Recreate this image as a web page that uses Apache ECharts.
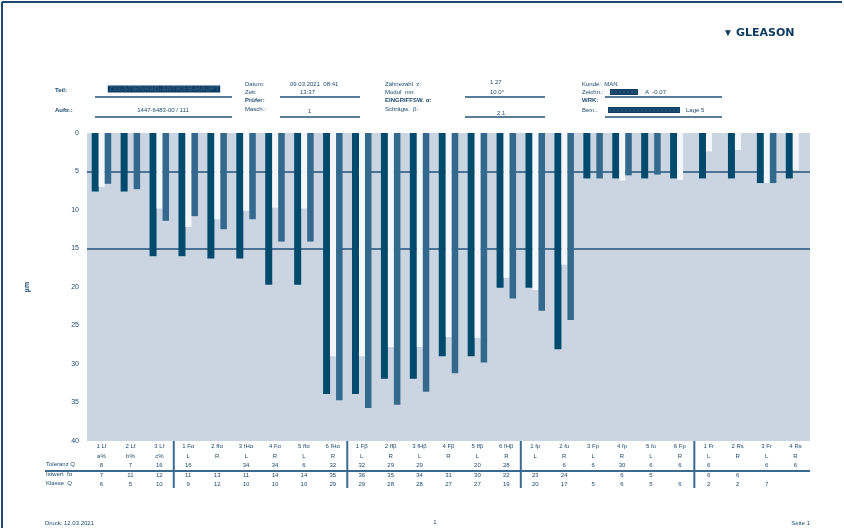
<!DOCTYPE html>
<html><head><meta charset="utf-8">
<script src="https://cdn.jsdelivr.net/npm/echarts@6/dist/echarts.min.js"></script>
<style>html,body{margin:0;padding:0;background:#fff}#c{width:844px;height:528px}</style>
</head><body><div id="c"></div>
<script>
// ---- data ----
const catLine1 = ['1 Lf','2 Lf','3 Lf','1 Fα','2 ffα','3 fHα','4 Fα','5 ffα','6 fHα','1 Fβ','2 ffβ','3 fHβ','4 Fβ','5 ffβ','6 fHβ','1 fp','2 fu','3 Fp','4 fp','5 fu','6 Fp','1 Fr','2 Rs','3 Fr','4 Rs'];
const catLine2 = ['a%','b%','c%','L','R','L','R','L','R','L','R','L','R','L','R','L','R','L','R','L','R','L','R','L','R'];
const darkValues  = [7.6,7.6,16.0,16.0,16.3,16.3,19.7,19.7,33.9,33.9,31.9,31.9,29.0,29.0,20.1,20.1,28.1,5.9,5.9,5.9,5.9,5.9,5.9,6.5,5.9];
const lightValues = [7.0,0,9.8,12.2,11.2,10.1,9.7,9.8,29.0,29.0,27.8,27.8,26.5,26.6,18.8,20.4,17.1,0,6.2,0,6.1,2.4,2.2,6.5,4.8];
const midValues   = [6.6,7.3,11.4,10.8,12.5,11.2,14.1,14.1,34.7,35.7,35.3,33.6,31.2,29.8,21.5,23.1,24.3,5.9,5.5,5.4,null,null,null,6.5,null];
const row1 = ['8','7','16','16','','34','34','6','32','32','29','29','','20','28','','6','6','30','6','6','6','','6','6'];
const row2 = ['7','11','12','11','13','11','14','14','35','36','35','34','31','30','22','23','24','','6','5','','6','6','',''];
const row3 = ['6','5','10','9','12','10','10','10','29','29','28','28','27','27','19','20','17','5','6','5','6','2','2','7',''];
const rowLabels = ['Toleranz Q', 'Istwert  fα', 'Klasse  Q'];
const yTicks = [0,5,10,15,20,25,30,35,40];
const refLines = [5,15];
const groupSizes = [3,6,6,6,4];

const C_DARK = '#004a6e', C_MID = '#34698e', C_LIGHT = '#f3f6fa', C_TXT = '#1b4a70', C_LINE = '#22527a';

const chart = echarts.init(document.getElementById('c'));
const F = 'Liberation Sans, Arial, sans-serif';
function T(x, y, s, o) {
  o = o || {};
  return {type:'text', x:x, y:y, silent:true, style:Object.assign({text:s, fill:C_TXT, font:(o.bold?'bold ':'')+(o.size||6)+'px '+(o.family||F), textVerticalAlign:'middle', textAlign:o.align||'left'}, o.style||{})};
}
function L(x1,y1,x2,y2,w,c){return {type:'line', silent:true, shape:{x1:x1,y1:y1,x2:x2,y2:y2}, style:{stroke:c||C_LINE, lineWidth:w||1.5}};}

const header = [
  // frame
  L(2,2,842,2,2,'#1d4a72'), L(2,2,2,528,2,'#1d4a72'),
  // logo
  T(723,33,'▼',{size:10,bold:true,style:{fill:'#0d3c63'}}),
  T(736,33,'GLEASON',{size:11,bold:true,family:'DejaVu Sans',style:{fill:'#0d3c63'}}),
  // column 1
  T(55,90,'Teil:',{bold:true}), T(164,89,'Z32-STIRNRAD-ANTRIEB-HAUPT',{bold:true,align:'center',size:7,style:{fill:'#2a5a80',backgroundColor:'#0e3c62',padding:[0,1]}}),
  L(95,97,232,97,1.5),
  T(55,110,'Auftr.:',{bold:true}), T(163,110,'1447-6483-00 / 111',{align:'center'}),
  L(95,117,232,117,1.5),
  // column 2
  T(245,84,'Datum:'), T(290,84,'09.03.2021  08:41'),
  T(245,92,'Zeit:'), T(300,92,'13:37'),
  L(280,97,360,97,1.5),
  T(245,100,'Prüfer:',{bold:true}),
  T(245,109,'Masch.:'), T(308,111,'1'),
  L(280,117,360,117,1.5),
  // column 3
  T(385,84,'Zähnezahl  z:'), T(490,82,'1.27'),
  T(385,92,'Modul  mn:'), T(490,92,'10.0°'),
  L(465,97,545,97,1.5),
  T(385,100,'EINGRIFFSW. α:',{bold:true}),
  T(385,109,'Schrägw.  β:'), T(497,113,'2.1'),
  L(465,117,545,117,1.5),
  // column 4
  T(582,84,'Kunde:  MAN'),
  T(582,92,'Zeichn.:'), T(610,92,'XXXXXXX',{bold:true,style:{fill:'#2a5a80',backgroundColor:'#0e3c62'}}), T(645,92,'A  -0.07'),
  L(605,97,722,97,1.5),
  T(582,100,'WRK:',{bold:true}),
  T(582,110,'Bem.:'), T(608,110,'XXXXXXXXXXXXXXXXXX',{bold:true,style:{fill:'#2a5a80',backgroundColor:'#0e3c62'}}), T(686,110,'Lage 5'),
  L(605,117,722,117,1.5),
  // table row labels
  T(46,464.5,rowLabels[0]), T(46,474,rowLabels[1]), T(46,483.5,rowLabels[2]),
  // footer
  T(45,523,'Druck: 12.03.2021'), T(435,522,'1',{align:'center'}), T(810,523,'Seite 1',{align:'right'})
];

chart.setOption({
  animation:false,
  backgroundColor:'#ffffff',
  grid:{left:87,right:34,top:133,bottom:87,show:true,backgroundColor:'#cbd5e2',borderWidth:0},
  xAxis:{type:'category',data:catLine1,axisLine:{show:false},axisTick:{show:false},
    axisLabel:{interval:0,margin:1,fontSize:6,lineHeight:9.4,color:C_TXT,fontFamily:F,
      formatter:function(v,i){return [catLine1[i],catLine2[i],row1[i]||' ',row2[i]||' ',row3[i]||' '].join('\n');}}},
  yAxis:{type:'value',inverse:true,min:yTicks[0],max:yTicks[yTicks.length-1],interval:5,
    splitLine:{show:false},axisLine:{show:false},axisTick:{show:false},
    axisLabel:{fontSize:7,color:C_TXT,margin:8,fontFamily:F},
    name:'µm',nameLocation:'middle',nameGap:56,nameRotate:90,nameTextStyle:{fontSize:7,fontWeight:'bold',color:C_TXT,fontFamily:F}},
  series:[
    {name:'Ist links',type:'bar',data:darkValues,barWidth:7,barGap:'0%',itemStyle:{color:C_DARK},
      markLine:{z:1,silent:true,symbol:'none',label:{show:false},lineStyle:{color:C_LINE,width:1.5,type:'solid'},data:refLines.map(v=>({yAxis:v}))}},
    {name:'Toleranz',type:'bar',data:lightValues,barWidth:6,barGap:'0%',itemStyle:{color:C_LIGHT}},
    {name:'Ist rechts',type:'bar',data:midValues,barWidth:6.5,barGap:'0%',itemStyle:{color:C_MID}}
  ],
  graphic:header
});

// group separators below the plot, at category boundaries
const p0 = chart.convertToPixel({xAxisIndex:0},0), p1 = chart.convertToPixel({xAxisIndex:0},1);
const band = p1 - p0;
const seps = [L(45,471,810,471,2,'#3a6a90')];
let acc = 0;
for (let g = 0; g < groupSizes.length - 1; g++) {
  acc += groupSizes[g];
  const x = chart.convertToPixel({xAxisIndex:0}, acc) - band/2;
  seps.push(L(x,441,x,488,2,'#3a6a90'));
}
chart.setOption({graphic: header.concat(seps)});
</script></body></html>
